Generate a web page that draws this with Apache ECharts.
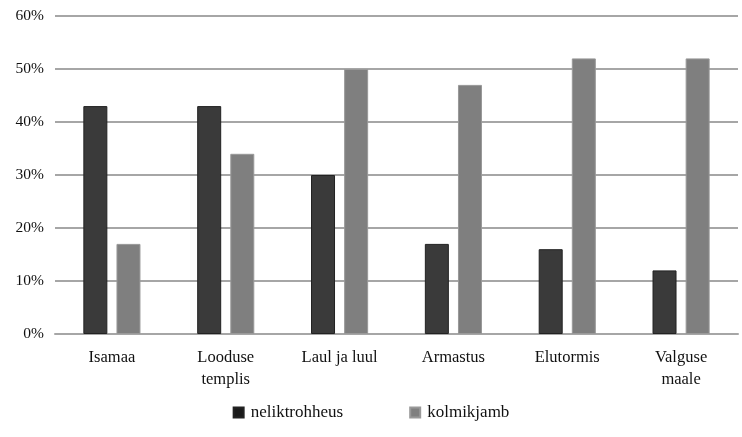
<!DOCTYPE html>
<html><head><meta charset="utf-8">
<script src="https://cdn.jsdelivr.net/npm/echarts@6/dist/echarts.min.js"></script>
<style>html,body{margin:0;padding:0;background:#fff}#c{width:742px;height:437px}</style>
</head><body><div id="c"></div>
<script>
const categories = ['Isamaa', 'Looduse\ntemplis', 'Laul ja luul', 'Armastus', 'Elutormis', 'Valguse\nmaale'];
const neliktrohheus = [43, 43, 30, 17, 16, 12];
const kolmikjamb = [17, 34, 50, 47, 52, 52];
const yTicks = [0, 10, 20, 30, 40, 50, 60];
const font = 'Liberation Serif';
const chart = echarts.init(document.getElementById('c'));
chart.setOption({
  animation: false,
  textStyle: { fontFamily: font },
  grid: { left: 55, right: 4, top: 16, bottom: 103 },
  legend: {
    bottom: 11, left: 'center', itemWidth: 10, itemHeight: 10, itemGap: 66,
    icon: 'rect',
    textStyle: { fontFamily: font, fontSize: 17, color: '#111', padding: [0, 0, 0, 2] },
    data: [
      { name: 'neliktrohheus', itemStyle: { color: '#1a1a1a' } },
      { name: 'kolmikjamb', itemStyle: { color: '#808080' } }
    ]
  },
  xAxis: {
    type: 'category', data: categories,
    axisLine: { lineStyle: { color: '#a6a6a6', width: 2 } },
    axisTick: { show: false },
    axisLabel: { fontFamily: font, fontSize: 16.5, color: '#111', margin: 13, lineHeight: 22 }
  },
  yAxis: {
    type: 'value', min: yTicks[0], max: yTicks[yTicks.length - 1], interval: 10,
    axisLine: { show: false }, axisTick: { show: false },
    splitLine: { lineStyle: { color: '#a6a6a6', width: 2 } },
    axisLabel: { fontFamily: font, fontSize: 15.5, color: '#111', margin: 11, formatter: v => v + '%' }
  },
  series: [
    { name: 'neliktrohheus', type: 'bar', data: neliktrohheus, barWidth: 24, barGap: '38%',
      itemStyle: { color: '#3a3a3a', borderColor: '#222', borderWidth: 1 } },
    { name: 'kolmikjamb', type: 'bar', data: kolmikjamb, barWidth: 24,
      itemStyle: { color: '#7f7f7f', borderColor: '#999', borderWidth: 1 } }
  ]
});
</script></body></html>
